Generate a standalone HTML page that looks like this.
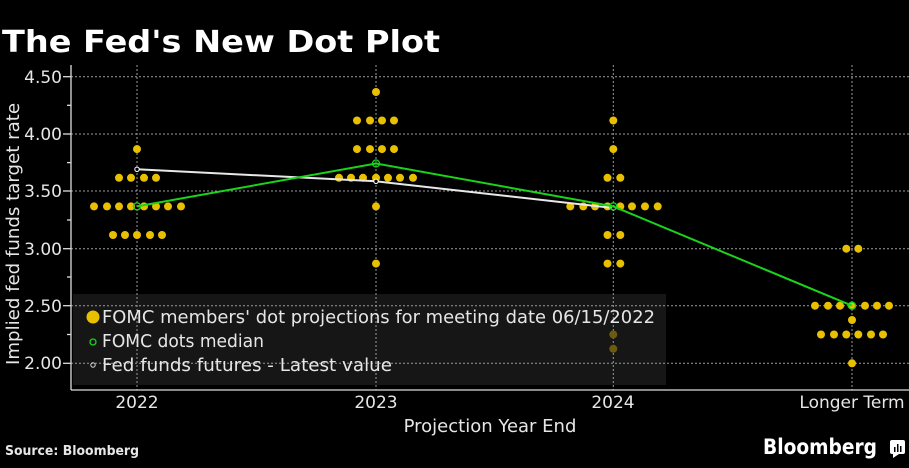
<!DOCTYPE html>
<html><head><meta charset="utf-8"><style>
html,body{margin:0;padding:0;background:#000;}
svg{display:block;}
text{font-family:"DejaVu Sans","Liberation Sans",sans-serif;fill:#e6e6e6;}
</style></head><body>
<svg width="909" height="468" viewBox="0 0 909 468" xmlns="http://www.w3.org/2000/svg">
<rect width="909" height="468" fill="#000"/>
<text x="2" y="52" font-size="30" font-weight="bold" fill="#fff" style="fill:#fff" textLength="438" lengthAdjust="spacingAndGlyphs">The Fed's New Dot Plot</text>

<rect x="73" y="294" width="593" height="91" fill="#161616"/>

<g stroke="#9a9a9a" stroke-width="1" stroke-dasharray="2,2">
<line x1="71" x2="909" y1="76.7" y2="76.7"/>
<line x1="71" x2="909" y1="134" y2="134"/>
<line x1="71" x2="909" y1="191" y2="191"/>
<line x1="71" x2="909" y1="248.7" y2="248.7"/>
<line x1="71" x2="909" y1="305.7" y2="305.7"/>
<line x1="71" x2="909" y1="363.3" y2="363.3"/>
<line x1="137" x2="137" y1="65" y2="390"/>
<line x1="376" x2="376" y1="65" y2="390"/>
<line x1="613.3" x2="613.3" y1="65" y2="390"/>
<line x1="852" x2="852" y1="65" y2="390"/>
</g>
<g stroke="#ddd" stroke-width="1.3">
<line x1="71" x2="71" y1="65" y2="390"/>
<line x1="71" x2="909" y1="390" y2="390"/>
<line x1="63" x2="71" y1="76.7" y2="76.7"/><line x1="63" x2="71" y1="134" y2="134"/>
<line x1="63" x2="71" y1="191" y2="191"/><line x1="63" x2="71" y1="248.7" y2="248.7"/>
<line x1="63" x2="71" y1="305.7" y2="305.7"/><line x1="63" x2="71" y1="363.3" y2="363.3"/>
<line x1="67" x2="71" y1="105.3" y2="105.3"/><line x1="67" x2="71" y1="162.6" y2="162.6"/>
<line x1="67" x2="71" y1="220" y2="220"/><line x1="67" x2="71" y1="277" y2="277"/>
<line x1="67" x2="71" y1="334.5" y2="334.5"/>
</g>
<g font-size="17" text-anchor="end">
<text x="62" y="83">4.50</text><text x="62" y="140">4.00</text><text x="62" y="197">3.50</text>
<text x="62" y="255">3.00</text><text x="62" y="312">2.50</text><text x="62" y="369">2.00</text>
</g>
<text transform="translate(19,234) rotate(-90)" font-size="18" text-anchor="middle" textLength="262" lengthAdjust="spacingAndGlyphs">Implied fed funds target rate</text>

<g font-size="17" text-anchor="middle">
<text x="137" y="408">2022</text><text x="376" y="408">2023</text><text x="613" y="408">2024</text>
<text x="852" y="408">Longer Term</text>
<text x="490" y="432" font-size="18">Projection Year End</text>
</g>

<g fill="#e8c000">
<circle cx="137" cy="149.1" r="4"/>
<circle cx="119" cy="177.8" r="4"/><circle cx="131" cy="177.8" r="4"/><circle cx="144" cy="177.8" r="4"/><circle cx="156" cy="177.8" r="4"/>
<circle cx="94" cy="206.4" r="4"/><circle cx="107" cy="206.4" r="4"/><circle cx="119" cy="206.4" r="4"/><circle cx="131" cy="206.4" r="4"/><circle cx="144" cy="206.4" r="4"/><circle cx="156" cy="206.4" r="4"/><circle cx="168" cy="206.4" r="4"/><circle cx="181" cy="206.4" r="4"/>
<circle cx="113" cy="235" r="4"/><circle cx="125" cy="235" r="4"/><circle cx="137" cy="235" r="4"/><circle cx="150" cy="235" r="4"/><circle cx="162" cy="235" r="4"/>
<circle cx="376" cy="92" r="4"/>
<circle cx="357" cy="120.5" r="4"/><circle cx="370" cy="120.5" r="4"/><circle cx="382" cy="120.5" r="4"/><circle cx="394" cy="120.5" r="4"/>
<circle cx="357" cy="149.1" r="4"/><circle cx="370" cy="149.1" r="4"/><circle cx="382" cy="149.1" r="4"/><circle cx="394" cy="149.1" r="4"/>
<circle cx="339" cy="177.8" r="4"/><circle cx="351" cy="177.8" r="4"/><circle cx="363" cy="177.8" r="4"/><circle cx="376" cy="177.8" r="4"/><circle cx="388" cy="177.8" r="4"/><circle cx="400" cy="177.8" r="4"/><circle cx="413" cy="177.8" r="4"/>
<circle cx="376" cy="206.4" r="4"/>
<circle cx="376" cy="263.6" r="4"/>
<circle cx="613.3" cy="120.5" r="4"/><circle cx="613.3" cy="149.1" r="4"/>
<circle cx="607.5" cy="177.8" r="4"/><circle cx="620.3" cy="177.8" r="4"/>
<circle cx="570.3" cy="206.4" r="4"/><circle cx="583.3" cy="206.4" r="4"/><circle cx="595" cy="206.4" r="4"/><circle cx="607.5" cy="206.4" r="4"/><circle cx="620.3" cy="206.4" r="4"/><circle cx="632" cy="206.4" r="4"/><circle cx="645" cy="206.4" r="4"/><circle cx="657.7" cy="206.4" r="4"/>
<circle cx="607.5" cy="235" r="4"/><circle cx="620.3" cy="235" r="4"/>
<circle cx="607.5" cy="263.6" r="4"/><circle cx="620.3" cy="263.6" r="4"/>
<circle cx="846.3" cy="248.7" r="4"/><circle cx="858.3" cy="248.7" r="4"/>
<circle cx="815" cy="305.7" r="4"/><circle cx="828" cy="305.7" r="4"/><circle cx="840" cy="305.7" r="4"/><circle cx="852" cy="305.7" r="4"/><circle cx="865" cy="305.7" r="4"/><circle cx="877" cy="305.7" r="4"/><circle cx="889" cy="305.7" r="4"/>
<circle cx="852" cy="320" r="4"/>
<circle cx="821" cy="334.5" r="4"/><circle cx="834" cy="334.5" r="4"/><circle cx="846.3" cy="334.5" r="4"/><circle cx="858.3" cy="334.5" r="4"/><circle cx="871" cy="334.5" r="4"/><circle cx="883" cy="334.5" r="4"/>
<circle cx="852" cy="363.3" r="4"/>
</g>
<g fill="#6b5a10"><circle cx="613.3" cy="334.5" r="4"/><circle cx="613.3" cy="348.8" r="4"/></g>

<polyline points="137,169.3 376,181.3 613.3,208" fill="none" stroke="#e8e8e8" stroke-width="2"/>
<g fill="#000" stroke="#fff" stroke-width="1"><circle cx="137" cy="169.3" r="2.2"/><circle cx="376" cy="181.3" r="2.2"/><circle cx="613.3" cy="208" r="2.2"/></g>
<polyline points="137,206.4 376,163.5 613.3,206.4 852,305.7" fill="none" stroke="#19d419" stroke-width="2"/>
<g fill="none" stroke="#19d419" stroke-width="1.3"><circle cx="137" cy="206.4" r="3.5"/><circle cx="376" cy="163.5" r="3.5"/><circle cx="613.3" cy="206.4" r="3.5"/><circle cx="852" cy="305.7" r="3.5"/></g>

<circle cx="93" cy="317" r="6.5" fill="#e8c000"/>
<circle cx="93" cy="342" r="3" fill="none" stroke="#19d419" stroke-width="1.3"/>
<circle cx="93" cy="365" r="2.2" fill="none" stroke="#ddd" stroke-width="1"/>
<g font-size="18">
<text x="102" y="323" textLength="553" lengthAdjust="spacingAndGlyphs">FOMC members' dot projections for meeting date 06/15/2022</text>
<text x="102" y="347" textLength="162" lengthAdjust="spacingAndGlyphs">FOMC dots median</text>
<text x="102" y="371" textLength="290" lengthAdjust="spacingAndGlyphs">Fed funds futures - Latest value</text>
</g>

<text x="5" y="455" font-size="13" font-weight="bold" textLength="134" lengthAdjust="spacingAndGlyphs">Source: Bloomberg</text>
<text x="763" y="454" font-size="21" font-weight="bold" fill="#fff" style="fill:#fff" textLength="114" lengthAdjust="spacingAndGlyphs">Bloomberg</text>
<rect x="890" y="440" width="15" height="14" rx="2" fill="#fff"/>
<polygon points="893,454 899,454 893,458" fill="#fff"/>
<g fill="#000"><rect x="894" y="447" width="1.5" height="5"/><rect x="897" y="444" width="1.5" height="8"/><rect x="900" y="446" width="1.5" height="6"/></g>
</svg>
</body></html>
